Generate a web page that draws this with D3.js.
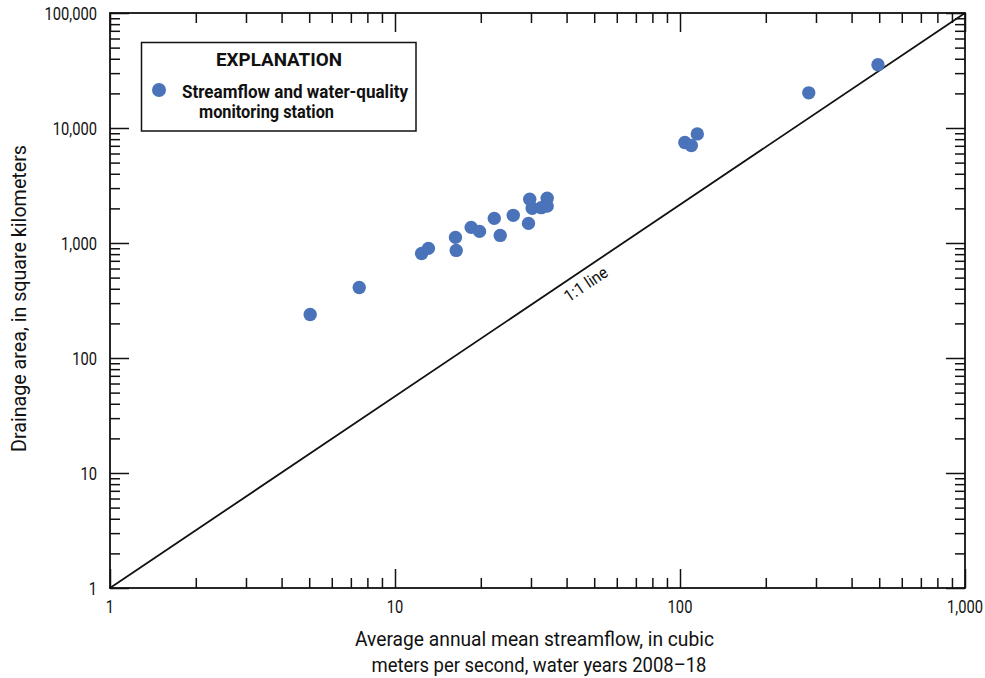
<!DOCTYPE html>
<html>
<head>
<meta charset="utf-8">
<script src="https://cdn.jsdelivr.net/npm/d3@7"></script>
<style>
  html, body { margin: 0; padding: 0; background: #fff; }
  svg text { font-family: "Roboto", "Liberation Sans", "DejaVu Sans", sans-serif; fill: #111; }
</style>
</head>
<body>
<svg id="chart" width="985" height="678"></svg>
<script>
// Average annual mean streamflow (m3/s), water years 2008-18
const streamflow = [5.04, 7.49, 12.4, 13.1, 16.4, 16.3, 18.5, 19.8, 22.3, 23.4, 26.0,
                    29.4, 29.7, 30.3, 32.6, 34.2, 34.2, 104, 109.6, 115, 283, 495];
// Drainage area (km2) for the same stations
const drainageArea = [239, 410, 811, 898, 862, 1119, 1367, 1262, 1637, 1164, 1740,
                      1481, 2398, 2001, 2030, 2447, 2096, 7479, 7040, 8884, 20220, 35450];

// Axis domains and labelled ticks
const xDomain = [1, 1000];
const yDomain = [1, 100000];
const xTickValues = [1, 10, 100, 1000];
const xTickLabels = ["1", "10", "100", "1,000"];
const yTickValues = [1, 10, 100, 1000, 10000, 100000];
const yTickLabels = ["1", "10", "100", "1,000", "10,000", "100,000"];

// Reference line end points
const refLineX = [1, 1000];
const refLineY = [1, 100000];

const svg = d3.select("#chart");
const m = { left: 110, right: 965, top: 13, bottom: 588 };

const x = d3.scaleLog().domain(xDomain).range([m.left, m.right]);
const y = d3.scaleLog().domain(yDomain).range([m.bottom, m.top]);

function fitTo(sel, width) {
  sel.attr("textLength", width).attr("lengthAdjust", "spacingAndGlyphs");
}

// minor ticks: 2..9 in every decade
function minorTicks(domain) {
  const out = [];
  for (let d = domain[0]; d < domain[1]; d *= 10) {
    for (let k = 2; k <= 9; k++) out.push(d * k);
  }
  return out;
}
const xMinor = minorTicks(xDomain);
const yMinor = minorTicks(yDomain);

const MAJ = 19, MIN = 10;
const g = svg.append("g");

function drawAxis(axisFn, scale, values, len, transform) {
  g.append("g")
    .attr("transform", transform)
    .call(axisFn(scale).tickValues(values).tickSize(len).tickFormat(""))
    .call(s => s.select(".domain").remove())
    .call(s => s.selectAll(".tick line").attr("stroke", "#111").attr("stroke-width", 1.5));
}

// inward ticks on all four sides
drawAxis(d3.axisTop, x, xTickValues, MAJ, `translate(0,${m.bottom})`);
drawAxis(d3.axisTop, x, xMinor, MIN, `translate(0,${m.bottom})`);
drawAxis(d3.axisBottom, x, xTickValues, MAJ, `translate(0,${m.top})`);
drawAxis(d3.axisBottom, x, xMinor, MIN, `translate(0,${m.top})`);
drawAxis(d3.axisRight, y, yTickValues, MAJ, `translate(${m.left},0)`);
drawAxis(d3.axisRight, y, yMinor, MIN, `translate(${m.left},0)`);
drawAxis(d3.axisLeft, y, yTickValues, MAJ, `translate(${m.right},0)`);
drawAxis(d3.axisLeft, y, yMinor, MIN, `translate(${m.right},0)`);

// frame
g.append("rect")
  .attr("x", m.left).attr("y", m.top)
  .attr("width", m.right - m.left).attr("height", m.bottom - m.top)
  .attr("fill", "none").attr("stroke", "#111").attr("stroke-width", 1.8);

// tick labels, horizontally squeezed for a condensed face
const SQ = 0.84;
g.selectAll(".xlab").data(xTickValues).join("text")
  .attr("transform", d => `translate(${x(d)},${m.bottom + 25}) scale(${SQ},1)`)
  .attr("text-anchor", "middle").attr("font-size", 17.5)
  .text((d, i) => xTickLabels[i]);

g.selectAll(".ylab").data(yTickValues).join("text")
  .attr("transform", d => `translate(${m.left - 13},${y(d) + 6.5}) scale(${SQ},1)`)
  .attr("text-anchor", "end").attr("font-size", 17.5)
  .text((d, i) => yTickLabels[i]);

// axis titles
g.append("text")
  .attr("x", 534.5).attr("y", 645.5)
  .attr("text-anchor", "middle").attr("font-size", 19.5)
  .text("Average annual mean streamflow, in cubic")
  .call(fitTo, 359);
g.append("text")
  .attr("x", 539).attr("y", 672)
  .attr("text-anchor", "middle").attr("font-size", 19.5)
  .text("meters per second, water years 2008\u201318")
  .call(fitTo, 335);
g.append("text")
  .attr("transform", `translate(26,298.5) rotate(-90)`)
  .attr("text-anchor", "middle").attr("font-size", 19.5)
  .text("Drainage area, in square kilometers")
  .call(fitTo, 307);

// reference line
const lineGen = d3.line().x(d => x(d[0])).y(d => y(d[1]));
g.append("path")
  .datum(refLineX.map((v, i) => [v, refLineY[i]]))
  .attr("d", lineGen)
  .attr("fill", "none").attr("stroke", "#111").attr("stroke-width", 1.8);

// label along the reference line
const angle = Math.atan2(y(refLineY[0]) - y(refLineY[1]), x(refLineX[1]) - x(refLineX[0])) * 180 / Math.PI;
const labX = 44;
const labY = Math.pow(labX, Math.log(refLineY[1]) / Math.log(refLineX[1]));
g.append("text")
  .attr("transform", `translate(${x(labX)},${y(labY)}) rotate(${-angle})`)
  .attr("text-anchor", "middle").attr("dy", 19).attr("font-size", 16.5)
  .text("1:1 line")
  .call(fitTo, 49);

// stations
g.selectAll(".pt").data(streamflow).join("circle")
  .attr("cx", d => x(d))
  .attr("cy", (d, i) => y(drainageArea[i]))
  .attr("r", 6.7)
  .attr("fill", "#4a73b9");

// legend
const lg = g.append("g");
lg.append("rect")
  .attr("x", 141.5).attr("y", 42.5).attr("width", 274.5).attr("height", 88.5)
  .attr("fill", "#fff").attr("stroke", "#111").attr("stroke-width", 1.5);
lg.append("text")
  .attr("x", 279).attr("y", 66).attr("text-anchor", "middle")
  .attr("font-size", 18.5).attr("font-weight", "bold")
  .text("EXPLANATION")
  .call(fitTo, 126);
lg.append("circle").attr("cx", 159).attr("cy", 90).attr("r", 7).attr("fill", "#4a73b9");
lg.append("text")
  .attr("x", 182).attr("y", 97.5).attr("font-size", 17.5).attr("font-weight", "bold")
  .text("Streamflow and water-quality")
  .call(fitTo, 226);
lg.append("text")
  .attr("x", 199).attr("y", 117.5).attr("font-size", 17.5).attr("font-weight", "bold")
  .text("monitoring station")
  .call(fitTo, 135);
</script>
</body>
</html>
